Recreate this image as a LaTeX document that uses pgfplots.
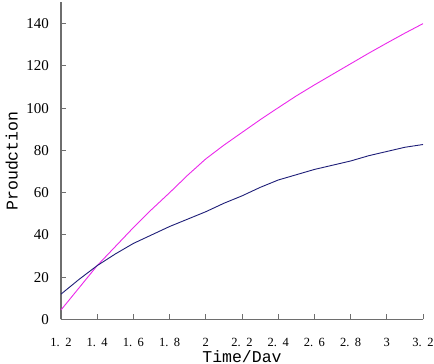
\documentclass[border=0pt]{standalone}
\usepackage{fontspec}
\setmainfont{Liberation Serif}
\newfontfamily\monof{Liberation Mono}
\usepackage{pgfplots}
\pgfplotsset{compat=1.18}
\definecolor{mag}{RGB}{235,40,235}
\definecolor{nav}{RGB}{30,30,120}
\definecolor{axgray}{RGB}{110,110,110}
\newcommand{\tl}[2]{#1.\kern5.5pt#2}
\begin{document}
\begin{tikzpicture}
\useasboundingbox (-61pt,-44.5pt) rectangle (373pt,319.5pt);
\begin{axis}[
  at={(0pt,0pt)}, anchor=south west,
  scale only axis, width=362pt, height=317pt,
  xmin=1.2, xmax=3.2, ymin=0, ymax=150,
  axis lines=left,
  axis line style={axgray, line width=1.3pt, -},
  tick style={axgray, line width=1pt},
  tick align=inside,
  major tick length=5pt,
  xtick={1.2,1.4,1.6,1.8,2,2.2,2.4,2.6,2.8,3,3.2},
  xticklabels={\tl{1}{2},\tl{1}{4},\tl{1}{6},\tl{1}{8},2,\tl{2}{2},\tl{2}{4},\tl{2}{6},\tl{2}{8},3,\tl{3}{2}},
  ytick={0,20,40,60,80,100,120,140},
  yticklabels={0,20,40,60,80,100,120,140},
  xticklabel style={font=\fontsize{12.5}{12.5}\selectfont, anchor=north, yshift=-18pt, inner sep=0pt, text height=9pt, text depth=0pt},
  yticklabel style={font=\fontsize{15}{15}\selectfont, anchor=east, xshift=-12pt, inner sep=0pt},
  xlabel={Time/Dav},
  xlabel style={font=\monof\fontsize{16.5}{16.5}\selectfont, at={(axis description cs:0.5,0)}, anchor=north, yshift=-31pt, inner sep=0pt},
  clip=false,
]
\addplot[mag, line width=0.9pt] coordinates {
(1.2,4.5) (1.3,15) (1.4,25.5) (1.5,34.5) (1.6,43.5) (1.7,52) (1.8,60) (1.9,68.3)
(2.0,76) (2.1,82.5) (2.2,88.5) (2.3,94.5) (2.4,100.2) (2.5,105.8) (2.6,111)
(2.7,116) (2.8,121) (2.9,126) (3.0,130.8) (3.1,135.5) (3.2,140)
};
\addplot[nav, line width=0.9pt] coordinates {
(1.2,12) (1.3,19) (1.4,25.5) (1.5,31) (1.6,36) (1.7,40) (1.8,44) (1.9,47.5)
(2.0,51) (2.1,55) (2.2,58.5) (2.3,62.5) (2.4,66) (2.5,68.5) (2.6,71)
(2.7,73) (2.8,75) (2.9,77.5) (3.0,79.5) (3.1,81.5) (3.2,82.8)
};
\node[font=\monof\fontsize{16.5}{16.5}\selectfont, xshift=-43pt, rotate=90, anchor=south, inner sep=0pt] at (axis description cs:0,0.5) {Proudction};
\end{axis}
\end{tikzpicture}
\end{document}
